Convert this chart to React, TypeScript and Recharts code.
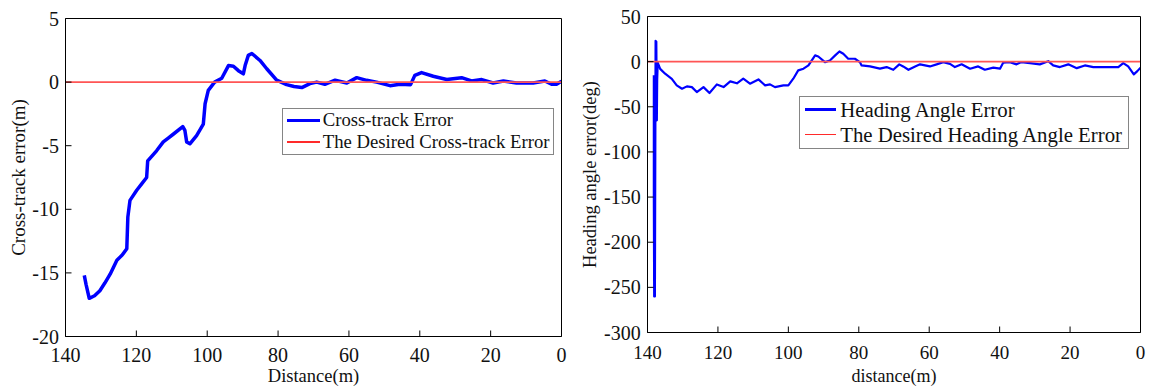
import React from 'react';
import { LineChart, Line, XAxis, YAxis, Legend } from 'recharts';

// ---------- data ----------
const xTicks = [0, 20, 40, 60, 80, 100, 120, 140];
const leftYTicks = [-20, -15, -10, -5, 0, 5];
const rightYTicks = [-300, -250, -200, -150, -100, -50, 0, 50];

const leftDist = [134.7, 134.2, 133.3, 131.8, 130.3, 128.9, 127.4, 125.5, 124.0, 122.7, 122.4, 121.8, 119.9, 118.5, 117.1, 116.8, 114.3, 112.4, 111.0, 109.6, 106.9, 106.3, 105.8, 104.9, 103.0, 101.1, 100.6, 99.7, 97.9, 95.9, 94.0, 92.6, 91.2, 89.8, 89.3, 88.4, 87.4, 85.1, 83.2, 80.4, 77.6, 75.5, 73.3, 71.0, 69.1, 66.8, 63.9, 60.6, 57.8, 55.0, 52.2, 48.4, 45.6, 42.6, 41.4, 39.5, 36.2, 32.4, 28.2, 25.4, 22.5, 19.3, 16.4, 12.7, 8.0, 4.7, 2.8, 1.4, 0];
const leftErr = [-15.2, -15.9, -17.0, -16.8, -16.4, -15.8, -15.1, -14.0, -13.6, -13.1, -10.6, -9.3, -8.5, -8.0, -7.5, -6.2, -5.4, -4.7, -4.4, -4.1, -3.5, -3.8, -4.7, -4.85, -4.2, -3.3, -1.7, -0.65, 0.0, 0.3, 1.3, 1.25, 0.9, 0.65, 1.3, 2.1, 2.25, 1.7, 1.05, 0.15, -0.2, -0.35, -0.43, -0.12, 0.0, -0.17, 0.15, -0.07, 0.35, 0.14, 0.0, -0.28, -0.17, -0.2, 0.53, 0.75, 0.46, 0.2, 0.35, 0.09, 0.2, -0.07, 0.09, -0.07, -0.07, 0.09, -0.17, -0.17, 0.06];

const rightDist = [138.2, 138.2, 138.1, 137.9, 137.7, 137.5, 137.35, 137.25, 137.1, 136.4, 135.0, 133.1, 131.7, 130.2, 128.8, 127.4, 126.0, 124.1, 122.4, 120.3, 118.4, 116.5, 114.6, 112.8, 110.9, 108.5, 106.6, 105.2, 103.8, 101.4, 100.0, 98.6, 97.2, 95.7, 94.3, 92.4, 91.5, 89.6, 88.2, 86.7, 85.5, 84.4, 83.0, 81.1, 79.7, 79.2, 76.8, 74.0, 72.1, 70.2, 68.5, 67.4, 65.9, 64.0, 62.6, 59.8, 57.9, 56.0, 54.1, 52.7, 50.8, 48.4, 46.1, 44.2, 41.8, 39.9, 39.0, 37.1, 35.2, 33.8, 31.4, 28.6, 26.2, 24.8, 22.9, 20.5, 18.1, 15.8, 13.4, 9.6, 6.3, 4.9, 3.5, 1.9, 0.9, 0];
const rightErr = [-15, -150, -260, -260, 23, 22, -65, -20, -1, -8, -13.4, -19, -26.3, -30, -27.4, -28.2, -33.7, -28.2, -34.8, -25.2, -28.2, -21.9, -24, -18.9, -24.4, -19.7, -26.3, -25.2, -28.2, -26.3, -26.3, -18.9, -9.7, -7.8, -4.2, 6.9, 5.7, -0.5, 1.3, 6.9, 11.3, 8.7, 3.2, 3.2, -0.5, -4.2, -5.3, -7.8, -6, -9, -3, -5.3, -9, -5.3, -3, -5.3, -3, -0.5, -2.4, -6, -3, -7.8, -5.3, -9, -6.7, -7.8, -1.2, -0.5, -3, -0.5, -1.6, -3, 0.5, -4.2, -6, -3, -7.2, -4.2, -6, -6, -6, -1.6, -5.3, -14.1, -10.5, -6.7];

const desiredDist = [140, 0];
const desiredErr = [0, 0];

const leftNames = ['Cross-track Error', 'The Desired Cross-track Error'];
const rightNames = ['Heading Angle Error', 'The Desired Heading Angle Error'];

const toRows = (ds: number[], vs: number[]) => ds.map((d, i) => ({ d, v: vs[i] }));

const FONT = '"Liberation Serif", "Times New Roman", serif';

type PanelProps = {
  left: number;
  data: { d: number; v: number }[];
  desired: { d: number; v: number }[];
  names: string[];
  yDomain: [number, number];
  yTicks: number[];
  marginTop: number;
  marginRight: number;
  yAxisWidth: number;
  xAxisHeight: number;
  xTickMargin: number;
  yTickMargin: number;
  xTickFont: number;
  yTickFont: number;
  xLabel: string;
  xLabelOffset: number;
  xLabelFont: number;
  yLabel: string;
  yLabelX: number;
  yLabelFont: number;
  blueWidth: number;
  legend: { left: number; top: number; width: number; height: number; padTop: number; rowH: number; lineLeft: number; lineLen: number; textLeft: number; font: number; blueW: number; redW: number };
};

function Panel(p: PanelProps) {
  const lg = p.legend;
  const legendContent = () => (
    <div
      style={{
        boxSizing: 'border-box',
        width: lg.width,
        height: lg.height,
        border: '1.5px solid #858585',
        background: '#fff',
        paddingTop: lg.padTop,
        fontFamily: FONT,
        fontSize: lg.font,
        color: '#111',
      }}
    >
      {p.names.map((n, i) => (
        <div key={n} style={{ position: 'relative', height: lg.rowH, lineHeight: lg.rowH + 'px', whiteSpace: 'nowrap' }}>
          <div
            style={{
              position: 'absolute',
              left: lg.lineLeft - 1.5,
              top: lg.rowH / 2 - (i === 0 ? lg.blueW : lg.redW) / 2,
              width: lg.lineLen,
              height: i === 0 ? lg.blueW : lg.redW,
              background: i === 0 ? '#0000ff' : '#ff2a2a',
            }}
          />
          <span style={{ position: 'absolute', left: lg.textLeft - 1.5, top: 0 }}>{n}</span>
        </div>
      ))}
    </div>
  );

  const xLabelContent = (props: any) => {
    const vb = props.viewBox || {};
    const x = vb.x + vb.width / 2;
    const y = vb.y + vb.height - p.xLabelOffset;
    return (
      <text x={x} y={y} textAnchor="middle" fontFamily={FONT} fontSize={p.xLabelFont} fill="#111">
        {p.xLabel}
      </text>
    );
  };
  const yLabelContent = (props: any) => {
    const vb = props.viewBox || {};
    const cy = vb.y + vb.height / 2;
    const x = p.yLabelX;
    return (
      <text x={x} y={cy} transform={`rotate(-90, ${x}, ${cy})`} textAnchor="middle" fontFamily={FONT} fontSize={p.yLabelFont} fill="#111">
        {p.yLabel}
      </text>
    );
  };

  return (
    <div style={{ position: 'absolute', left: p.left, top: 0, width: 575, height: 391 }}>
      <LineChart width={575} height={391} margin={{ top: p.marginTop, right: p.marginRight, bottom: 0, left: 0 }}>
        <XAxis
          xAxisId="b"
          type="number"
          dataKey="d"
          domain={[0, 140]}
          ticks={xTicks}
          reversed
          allowDataOverflow
          interval={0}
          height={p.xAxisHeight}
          tickSize={-6}
          tickMargin={p.xTickMargin}
          stroke="#000"
          tick={{ fontSize: p.xTickFont, fontFamily: FONT, fill: '#111' }}
          label={{ content: xLabelContent }}
        />
        <XAxis
          xAxisId="t"
          orientation="top"
          type="number"
          dataKey="d"
          domain={[0, 140]}
          ticks={xTicks}
          reversed
          allowDataOverflow
          interval={0}
          height={1}
          tickSize={-6}
          tick={false}
          stroke="#000"
        />
        <YAxis
          yAxisId="l"
          type="number"
          domain={p.yDomain}
          ticks={p.yTicks}
          allowDataOverflow
          interval={0}
          width={p.yAxisWidth}
          tickSize={-6}
          tickMargin={p.yTickMargin}
          stroke="#000"
          tick={{ fontSize: p.yTickFont, fontFamily: FONT, fill: '#111' }}
          label={{ content: yLabelContent }}
        />
        <YAxis
          yAxisId="r"
          orientation="right"
          type="number"
          domain={p.yDomain}
          ticks={p.yTicks}
          allowDataOverflow
          interval={0}
          width={1}
          tickSize={-6}
          tick={false}
          stroke="#000"
        />
        <Line
          xAxisId="b"
          yAxisId="l"
          data={p.data}
          dataKey="v"
          name={p.names[0]}
          stroke="#0000ff"
          strokeWidth={p.blueWidth}
          strokeLinejoin="round"
          dot={false}
          activeDot={false}
          isAnimationActive={false}
          type="linear"
        />
        <Line
          xAxisId="b"
          yAxisId="l"
          data={p.desired}
          dataKey="v"
          name={p.names[1]}
          stroke="#ff5555"
          strokeWidth={1.6}
          dot={false}
          activeDot={false}
          isAnimationActive={false}
          type="linear"
        />
        <Legend
          layout="horizontal"
          verticalAlign="middle"
          align="center"
          content={legendContent}
          wrapperStyle={{ left: lg.left, top: lg.top, width: lg.width, height: lg.height }}
        />
      </LineChart>
    </div>
  );
}

export default function App() {
  const leftData = toRows(leftDist, leftErr);
  const rightData = toRows(rightDist, rightErr);
  const desired = toRows(desiredDist, desiredErr);
  return (
    <div style={{ position: 'absolute', left: 0, top: 0, width: 1150, height: 391, background: '#fff', overflow: 'hidden' }}>
      <Panel
        left={0}
        data={leftData}
        desired={desired}
        names={leftNames}
        yDomain={[-20, 5]}
        yTicks={leftYTicks}
        marginTop={17.5}
        marginRight={12.5}
        yAxisWidth={65.5}
        xAxisHeight={54.5}
        xTickMargin={17.3}
        yTickMargin={12.5}
        xTickFont={20}
        yTickFont={20}
        xLabel="Distance(m)"
        xLabelOffset={9}
        xLabelFont={18.5}
        yLabel="Cross-track error(m)"
        yLabelX={24.5}
        yLabelFont={19}
        blueWidth={3.5}
        legend={{ left: 281.7, top: 107.7, width: 272.6, height: 47.3, padTop: 0.6, rowH: 22, lineLeft: 6.3, lineLen: 33, textLeft: 41.6, font: 18.7, blueW: 3.5, redW: 2 }}
      />
      <Panel
        left={575}
        data={rightData}
        desired={desired}
        names={rightNames}
        yDomain={[-300, 50]}
        yTicks={rightYTicks}
        marginTop={15.5}
        marginRight={8.5}
        yAxisWidth={72.5}
        xAxisHeight={58.5}
        xTickMargin={19}
        yTickMargin={12.8}
        xTickFont={19}
        yTickFont={20}
        xLabel="distance(m)"
        xLabelOffset={9}
        xLabelFont={18}
        yLabel="Heading angle error(deg)"
        yLabelX={20.5}
        yLabelFont={18.5}
        blueWidth={2.2}
        legend={{ left: 224.3, top: 96, width: 330, height: 53, padTop: 0, rowH: 25, lineLeft: 6.7, lineLen: 30.7, textLeft: 41.4, font: 20.8, blueW: 2.5, redW: 1.5 }}
      />
    </div>
  );
}
